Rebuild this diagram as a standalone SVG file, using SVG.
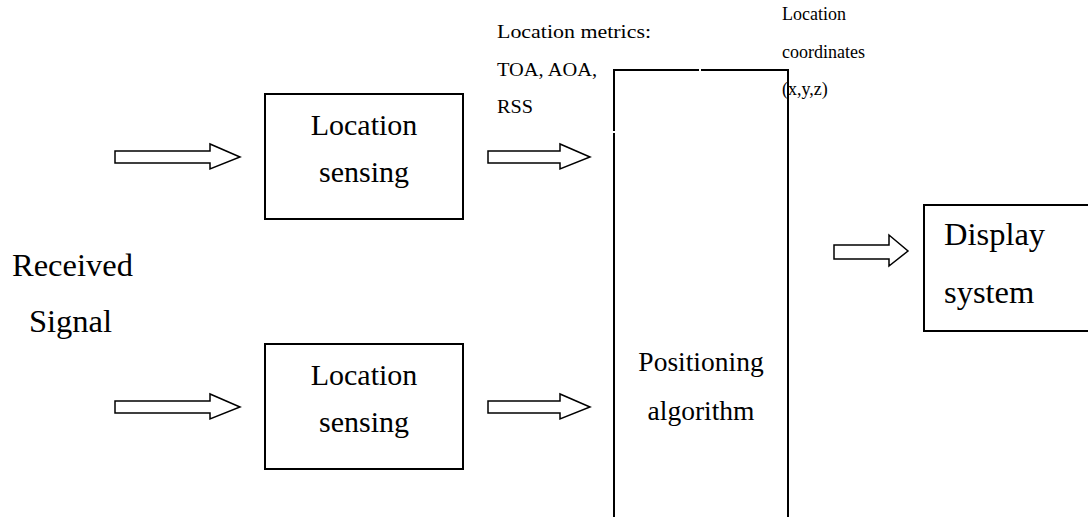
<svg xmlns="http://www.w3.org/2000/svg" width="1088" height="517" viewBox="0 0 1088 517" font-family="'Liberation Serif', 'Times New Roman', Tinos, 'DejaVu Serif', serif">
<style>
  .box { fill: #fff; stroke: #000; stroke-width: 2; }
  .line { fill: none; stroke: #000; stroke-width: 2; }
  .arrow { fill: #fff; stroke: #000; stroke-width: 1.5; stroke-linejoin: miter; }
  text { font-family: 'Liberation Serif', 'Times New Roman', Tinos, 'DejaVu Serif', serif; fill: #000; }
  .big { font-size: 30px; }
  .mid { font-size: 27.5px; }
  .lab { font-size: 32.5px; }
  .small { font-size: 18px; }
  .metric { font-size: 19px; }
</style>
<rect width="1088" height="517" fill="#fff"/>
<g id="connectors">
  <path class="arrow" d="M115,151 H210 V144 L240,157 L210,169 V163 H115 Z"/>
  <path class="arrow" d="M115,401 H210 V394 L240,407 L210,419 V413 H115 Z"/>
  <path class="arrow" d="M488,151 H560 V144 L590,157 L560,169 V163 H488 Z"/>
  <path class="arrow" d="M488,401 H560 V394 L590,407 L560,419 V413 H488 Z"/>
  <path class="arrow" d="M834,245 H889 V235 L908,251 L889,266 V259 H834 Z"/>
</g>
<g id="input-label">
  <text class="lab" x="12" y="276">Received</text>
  <text class="lab" x="29" y="332">Signal</text>
</g>
<g id="sensing1">
  <rect class="box" x="265" y="94" width="198" height="125"/>
  <text class="big" x="364" y="135" text-anchor="middle">Location</text>
  <text class="big" x="364" y="182" text-anchor="middle">sensing</text>
</g>
<g id="sensing2">
  <rect class="box" x="265" y="344" width="198" height="125"/>
  <text class="big" x="364" y="385" text-anchor="middle">Location</text>
  <text class="big" x="364" y="432" text-anchor="middle">sensing</text>
</g>
<g id="metrics-label">
  <text class="metric" x="497" y="38" textLength="154" lengthAdjust="spacingAndGlyphs">Location metrics:</text>
  <text class="metric" x="497" y="76" textLength="100" lengthAdjust="spacingAndGlyphs">TOA, AOA,</text>
  <text class="metric" x="497" y="113" textLength="36" lengthAdjust="spacingAndGlyphs">RSS</text>
</g>
<g id="positioning">
  <path class="line" d="M614,517 V133 M614,131 V70 H699 M701,70 H788 V517"/>
  <text class="mid" x="701" y="371" text-anchor="middle">Positioning</text>
  <text class="mid" x="701" y="420" text-anchor="middle">algorithm</text>
</g>
<g id="coords-label">
  <text class="small" x="782" y="20">Location</text>
  <text class="small" x="782" y="58">coordinates</text>
  <text class="small" x="782" y="95">(x,y,z)</text>
</g>
<g id="display">
  <rect class="box" x="924" y="205" width="170" height="126"/>
  <text class="lab" x="944" y="245">Display</text>
  <text class="lab" x="944" y="303">system</text>
</g>
</svg>
